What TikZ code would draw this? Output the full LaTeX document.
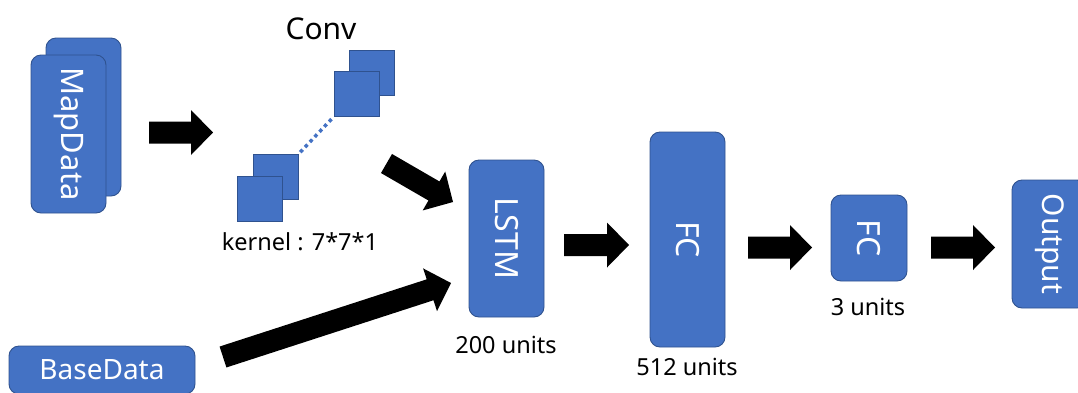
\documentclass[tikz,border=0pt]{standalone}
\usepackage{fontspec}
\setmainfont{Noto Sans}
\usetikzlibrary{calc}

\definecolor{blk}{HTML}{4472C4}
\definecolor{blkedge}{HTML}{2F528F}

% Block arrow from #1 (tail centre) to #2 (tip)
\newcommand\blockarrow[2]{%
  \coordinate (ahb) at ($(#2)!22pt!(#1)$);
  \fill[black]
    ($(#1)!11pt!90:(#2)$) -- ($(ahb)!11pt!-90:(#1)$) -- ($(ahb)!22.5pt!-90:(#1)$)
    -- (#2)
    -- ($(ahb)!22.5pt!90:(#1)$) -- ($(ahb)!11pt!90:(#1)$) -- ($(#1)!11pt!-90:(#2)$) -- cycle;
}

\tikzset{
  box/.style={draw=blkedge, fill=blk, line width=0.9pt, rounded corners=10pt,
              text=white, inner sep=0pt},
  vbox/.style={box, rotate=-90},
  sq/.style={draw=blkedge, fill=blk, line width=0.9pt, minimum size=45pt, inner sep=0pt},
  lbl/.style={text=black, inner sep=0pt},
  big/.style={font=\fontsize{32}{38}\selectfont},
  small/.style={font=\fontsize{23.5}{28}\selectfont},
}

\begin{document}
\begin{tikzpicture}[x=1pt, y=-1pt]
  \useasboundingbox (0,0) rectangle (1078,392);
  \clip (0,0) rectangle (1078,392);

  % stacked map inputs
  \node[vbox, minimum width=158pt, minimum height=75pt] (mapback) at (83.5,117) {};
  \node[vbox, minimum width=158pt, minimum height=75pt, font=\fontsize{31}{36}\selectfont]
    (map) at (68.5,134) {MapData};

  % convolution kernels
  \node[lbl, font=\fontsize{30}{36}\selectfont] (conv) at (321,29) {Conv};
  \node[sq] (tb) at (371.5,72.5) {};
  \node[sq] (tf) at (356.5,94) {};
  \node[sq] (bb) at (275.5,177) {};
  \node[sq] (bf) at (260,198.5) {};
  \draw[blk, line width=3.5pt, dash pattern=on 3.5pt off 3.5pt, shorten <=3pt, shorten >=2pt]
    (tf.south west) -- (bb.north east);
  \node[lbl, small] (kern) at (300,242) {kernel : 7*7*1};

  % recurrent and dense layers
  \node[vbox, big, minimum width=157pt, minimum height=75pt] (lstm) at (506.5,238.5) {LSTM};
  \node[lbl, small] (u200) at (506,345) {200 units};

  \node[vbox, big, minimum width=215pt, minimum height=75pt] (fc1) at (687.5,239.5) {FC};
  \node[lbl, small] (u512) at (687,367) {512 units};

  \node[vbox, big, minimum width=86pt, minimum height=76pt] (fc2) at (869,238) {FC};
  \node[lbl, small] (u3) at (868,307) {3 units};

  \node[vbox, minimum width=128pt, minimum height=75pt, font=\fontsize{30}{36}\selectfont]
    (out) at (1049.5,244) {Output};

  % scalar input
  \node[box, minimum width=186pt, minimum height=48pt, font=\fontsize{28}{34}\selectfont]
    (base) at (102,370) {BaseData};

  % arrow end points
  \coordinate (a1s) at (149,132.5);  \coordinate (a1e) at (213,132.5);
  \coordinate (a2s) at (386.5,163.5); \coordinate (a2e) at (453,202);
  \coordinate (a3s) at (564,245);    \coordinate (a3e) at (629,245);
  \coordinate (a4s) at (748,247.5);  \coordinate (a4e) at (812,247.5);
  \coordinate (a5s) at (931,247.5);  \coordinate (a5e) at (995,247.5);
  \coordinate (a6s) at (223,357);    \coordinate (a6e) at (451,283);

  \blockarrow{a1s}{a1e}
  \blockarrow{a2s}{a2e}
  \blockarrow{a3s}{a3e}
  \blockarrow{a4s}{a4e}
  \blockarrow{a5s}{a5e}
  \blockarrow{a6s}{a6e}
\end{tikzpicture}
\end{document}
